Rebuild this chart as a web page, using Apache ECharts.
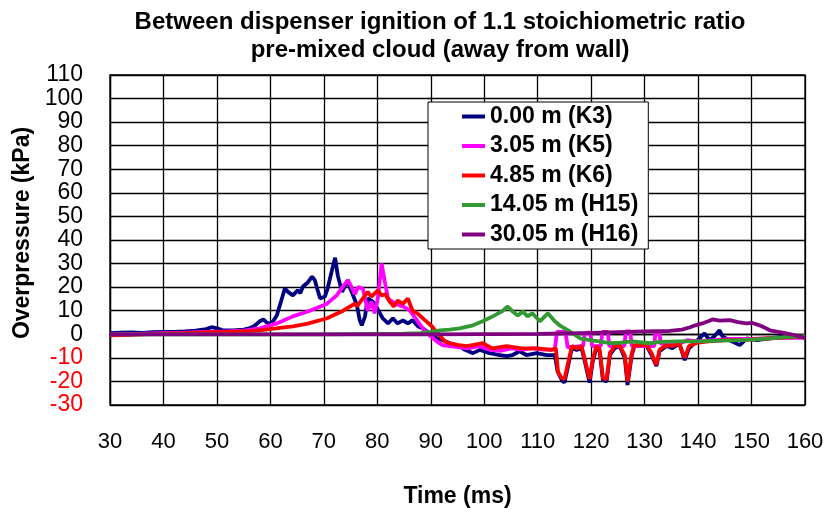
<!DOCTYPE html>
<html>
<head>
<meta charset="utf-8">
<title>Between dispenser ignition</title>
<script src="https://cdn.jsdelivr.net/npm/echarts@6/dist/echarts.min.js"></script>
<style>
  html, body { margin: 0; padding: 0; background: #fff; }
  #chart { width: 827px; height: 513px; }
</style>
</head>
<body>
<div id="chart"></div>
<script>
// 读图得到的数据 [时间 ms, 超压 kPa]
var seriesNames = ["0.00 m (K3)", "3.05 m (K5)", "4.85 m (K6)", "14.05 m (H15)", "30.05 m (H16)"];
var seriesColors = ["#000080", "#FF00FF", "#FF0000", "#339933", "#800080"];

var k3 = [[30,0.5],[32,0.7],[34,0.8],[36,0.6],[38,0.9],[40,1.0],[42,1.0],[44,1.2],[46,1.5],[48,2.2],[49,3.0],[50,2.5],[51,1.8],[53,1.6],[55,2.0],[56,2.5],[57,3.5],[58,5.5],[58.7,6.3],[59.3,5],[59.9,4.5],[60.5,5.5],[61.2,8],[62,14],[62.7,19.4],[63.3,18],[64.2,16.5],[65.1,18.6],[65.6,17.5],[66.1,20.3],[67,22],[67.8,24.5],[68.3,23],[68.8,19],[69.3,15.2],[70.2,16],[70.7,19.4],[71.5,27],[72.1,32.5],[72.6,25],[73.4,18],[73.9,20.3],[74.5,23],[75,19],[75.4,17],[76.2,12.2],[76.7,6],[77.1,3.8],[77.7,7.6],[78.2,15.2],[78.9,14.3],[79.5,13],[80.5,8.9],[81,6.8],[82,4.6],[82.9,6.8],[83.8,4.6],[84.8,5.9],[85.7,4.6],[86.6,6],[87.6,3.4],[88.5,2.5],[89.8,0.4],[91.1,-1.7],[92.2,-2.5],[93.6,-3.8],[95.4,-5],[96.4,-6.6],[97.9,-8],[99.2,-6.6],[101,-8],[102.9,-8.8],[104.2,-9.3],[105.3,-8.8],[106.6,-7.2],[107.9,-8.8],[109.8,-8],[111.7,-8.8],[113.2,-8.8],[113.7,-15.6],[114.5,-19.4],[115,-20.5],[115.6,-14.3],[116.4,-5.9],[117.3,-6.6],[118.2,-5.9],[118.8,-11.4],[119.7,-20.5],[120.3,-11.4],[121,-5.9],[121.6,-7.2],[122.2,-19.4],[122.9,-20],[123.5,-8.8],[124.4,-5.9],[125.3,-5],[126.3,-10],[126.8,-21.5],[127.6,-8.8],[128.1,-5],[129.1,-5],[130.4,-5],[131.3,-8.8],[132.2,-13.5],[132.8,-7.2],[134.1,-5],[135.2,-5.9],[136.5,-4],[137.5,-11],[138.3,-6],[139.7,-3],[141.2,0.4],[142.1,-2.5],[143,-1],[144,1.7],[144.6,-1],[145.9,-2.5],[147.8,-4.6],[149.1,-1.7],[151,-2.5],[153.4,-1.7],[156.5,-0.8],[160,-1]];

var k5 = [[30,0],[33,0.2],[36,0.3],[40,0.5],[44,0.7],[48,1],[52,1.2],[55,1.5],[58,2.5],[61.2,4.6],[64.2,7.6],[67.4,10],[70.6,13],[72.4,16.5],[73.6,20.3],[74.5,23],[75.2,20],[75.8,17],[76.4,20],[77.3,19.4],[78.2,10],[78.9,13.9],[79.5,8.9],[80.1,15.2],[80.8,30],[81.4,22.4],[82,15.2],[83.3,13],[84.8,11.8],[86.1,10],[87.4,6],[88.5,2.5],[89.8,-0.4],[91.1,-3],[92.2,-4.6],[93.6,-5],[95.5,-5.5],[97,-6],[99,-5],[101,-6.5],[103,-7],[105,-6],[107,-6.5],[109,-6],[111,-6.5],[113.2,-6.5],[113.6,1],[115.2,1],[115.6,-5.5],[118.5,-5],[118.8,0.5],[119.8,0.8],[120.2,-5],[121.8,-5],[122.1,1],[123.1,1],[123.4,-5],[126.2,-5],[126.5,1.2],[127.3,1.2],[127.6,-5],[131.8,-5],[132,0],[132.8,0],[133,-4],[135,-4],[137,-3.5],[138,-2.5],[140,-3],[143,-2.5],[146,-2],[150,-2],[155,-1.5],[160,-1.5]];

var k6 = [[30,-0.5],[33,-0.3],[36,0],[40,0.3],[44,0.5],[48,0.8],[52,1],[56,1.3],[58,1.7],[61,2.5],[64.2,3.4],[67,4.5],[70.6,6.8],[73.6,10],[75.8,13],[76.2,11.8],[77.3,15.2],[78.2,18],[78.9,16],[80.1,18.6],[80.8,16.5],[81.5,17],[82.3,13.9],[83.1,11.8],[83.8,14.3],[84.8,13],[85.7,15.2],[86.6,10],[87.5,8.9],[88.9,6],[90.2,3.4],[91.3,0.4],[92.6,-3],[93.6,-3.8],[95,-4.5],[96.7,-5],[98,-4.5],[99.7,-3.8],[101.5,-6],[104.2,-5],[107,-6],[110,-6],[112.5,-6.6],[113.4,-6],[113.8,-16],[114.5,-18.6],[115,-19],[115.6,-13],[116.4,-5],[117.3,-6],[118.2,-5],[118.8,-10.5],[119.7,-19],[120.3,-10.5],[121,-5],[121.6,-6.5],[122.2,-18.6],[122.9,-19],[123.5,-8],[124.4,-5],[125.3,-4.6],[126.3,-9],[126.8,-20],[127.6,-8],[128.1,-4.6],[130.4,-4.6],[131.3,-8],[132.2,-13],[132.8,-6.5],[134.1,-4.6],[135.2,-5],[136.5,-4],[137.5,-10],[138.3,-5],[140,-3.5],[142,-3],[145,-2.5],[148,-2.5],[151,-2],[155,-1.5],[160,-1]];

var h15 = [[30,0],[40,0],[50,0],[60,0],[70,0],[80,0.2],[85,0.3],[88,0.5],[90,1],[91.7,1.7],[93.5,2],[95.4,2.5],[97.9,3.8],[99.7,5.5],[101.6,7.6],[103.3,9.7],[104.4,11.8],[105.3,9.7],[106.3,8],[107.2,9.7],[108.1,7.6],[109,8.9],[110.4,5.5],[111.9,8.9],[113.2,5.5],[114.1,3.8],[116,1.2],[117.9,-1.7],[119.7,-2.5],[121.5,-3],[123.5,-3.8],[125.5,-3.5],[127.8,-3],[130.9,-3.8],[133,-3.2],[136.5,-3],[140,-3],[143,-2.8],[147.8,-2.5],[151,-2.2],[153.4,-1.7],[156.5,-1.2],[160,-0.8]];

var h16 = [[30,0],[40,0],[50,0],[60,0],[70,0],[80,0],[90,0],[100,0.1],[110,0.2],[115,0.4],[120,0.6],[125,0.9],[130,1.2],[134.7,1.4],[137,2],[138.5,3],[139.5,3.8],[140.8,4.6],[142,5.6],[142.7,6.3],[144,5.8],[145.9,6],[147.5,5.2],[149,4.6],[150.2,4.8],[151.5,3.8],[152.5,2.8],[153.4,1.7],[155,1],[156.5,0.4],[158,-0.3],[159.5,-1.2],[160,-1.7]];

var allData = [k3, k5, k6, h15, h16];

(function() {
  var myChart = echarts.init(document.getElementById("chart"));
  var font = "'Liberation Sans', Arial, sans-serif";

  var series = [];
  for (var i = 0; i < allData.length; i++) {
    series.push({
      name: seriesNames[i],
      type: "line",
      data: allData[i],
      showSymbol: false,
      lineStyle: { width: 3.8, color: seriesColors[i] },
      itemStyle: { color: seriesColors[i] }
    });
  }

  var option = {
    animation: false,
    backgroundColor: "#fff",
    title: {
      text: "Between dispenser ignition of 1.1 stoichiometric ratio\npre-mixed cloud (away from wall)",
      left: 435,
      top: 3,
      textAlign: "center",
      textStyle: {
        fontFamily: font,
        fontSize: 24,
        fontWeight: "bold",
        lineHeight: 28,
        color: "#000"
      }
    },
    legend: {
      orient: "vertical",
      left: 428,
      top: 102,
      padding: [3, 10, 3, 34],
      itemGap: 6.5,
      itemWidth: 23,
      itemHeight: 4,
      icon: "rect",
      backgroundColor: "#fff",
      borderColor: "#000",
      borderWidth: 1,
      data: seriesNames,
      textStyle: {
        fontFamily: font,
        fontSize: 23,
        fontWeight: "bold",
        color: "#000"
      }
    },
    grid: {
      left: 110,
      right: 22,
      top: 75,
      bottom: 106,
      show: true,
      borderColor: "#000",
      borderWidth: 1.3
    },
    xAxis: {
      type: "value",
      min: 30,
      max: 160,
      interval: 10,
      name: "Time (ms)",
      nameLocation: "middle",
      nameGap: 80,
      nameTextStyle: {
        fontFamily: font,
        fontSize: 23,
        fontWeight: "bold",
        color: "#000"
      },
      axisLine: { show: true, lineStyle: { color: "#000", width: 1.3 } },
      axisTick: { show: false },
      axisLabel: {
        margin: 26,
        fontFamily: font,
        fontSize: 22,
        color: "#000"
      },
      splitLine: { show: true, lineStyle: { color: "#000", width: 1.3 } }
    },
    yAxis: {
      type: "value",
      min: -30,
      max: 110,
      interval: 10,
      name: "Overpressure (kPa)",
      nameLocation: "middle",
      nameGap: 76,
      nameTextStyle: {
        fontFamily: font,
        fontSize: 23,
        fontWeight: "bold",
        color: "#000",
        padding: [0, 0, 0, 14]
      },
      axisLine: { show: true, lineStyle: { color: "#000", width: 1.3 } },
      axisTick: { show: false },
      axisLabel: {
        margin: 27,
        fontFamily: font,
        fontSize: 23,
        color: function(value) {
          return value < 0 ? "#FF0000" : "#000";
        }
      },
      splitLine: { show: true, lineStyle: { color: "#000", width: 1.3 } }
    },
    series: series
  };

  myChart.setOption(option);
  window.addEventListener("resize", function() {
    myChart.resize();
  });
})();
</script>
</body>
</html>
